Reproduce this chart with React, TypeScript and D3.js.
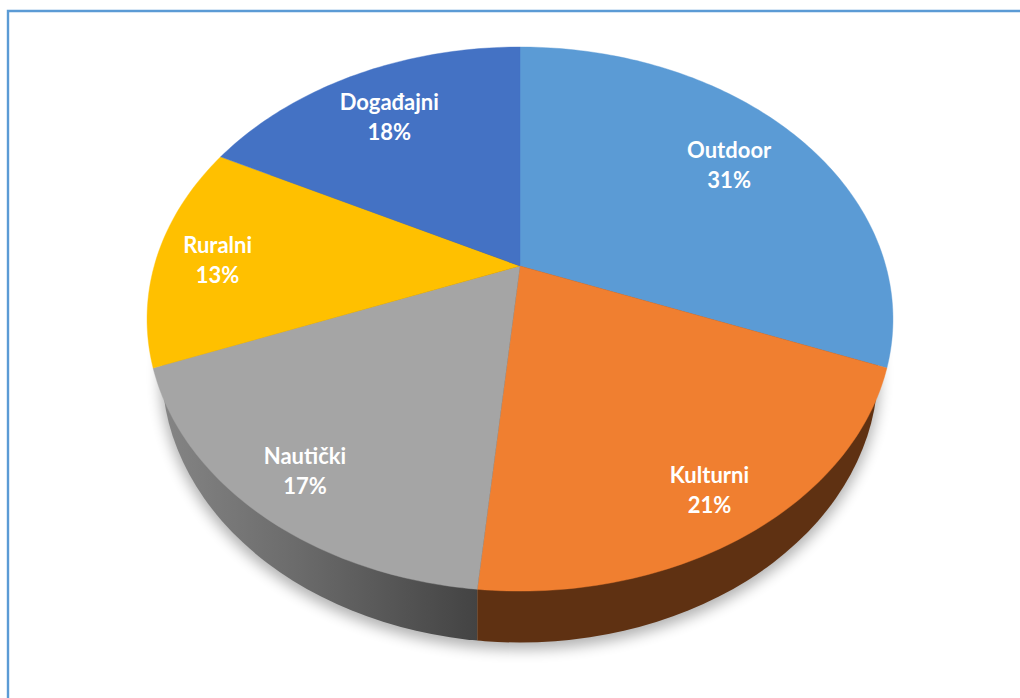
import React from "react";
import * as d3 from "d3";

const categories = ["Outdoor", "Kulturni", "Nautički", "Ruralni", "Događajni"];
const shares = [30.9, 20.6, 17.6, 13.4, 17.5];
const percentLabels = ["31%", "21%", "17%", "13%", "18%"];
const colors = ["#5B9BD5", "#F07F30", "#A5A5A5", "#FFC000", "#4472C4"];
const labelRadius = [0.75, 0.855, 0.85, 0.84, 0.765];
const labelNudgeX = [0, -2, 1, 2, -1];
const labelNudgeY = [0.5, 2, 0, 4, 2];

const W = 1020;
const H = 698;
const CX = 520;
// projective view of the pie's top face
const A = 365.8;
const B = 209.84;
const C = -0.195;
const D = 266;

function project(theta: number, r = 1): [number, number] {
  const u = Math.sin(theta) * r;
  const v = -Math.cos(theta) * r;
  const w = 1 + C * v;
  return [CX + (A * u) / w, (B * v + D) / w];
}

const arcs = d3.pie<number>().sort(null)(shares);
const line = d3.line();

function wedgePath(a0: number, a1: number) {
  const n = Math.max(2, Math.ceil((a1 - a0) * 60));
  const pts = d3.range(n + 1).map((i) => project(a0 + ((a1 - a0) * i) / n));
  return line([project(0, 0), ...pts]) + "Z";
}

// lower rim of the pie
const rim = { cy: 370, rx: 358, ry: 272.5 };
const splitX = project(arcs[1].endAngle)[0];

export default function App() {
  return (
    <svg
      width={W}
      height={H}
      viewBox={`0 0 ${W} ${H}`}
      style={{ position: "absolute", left: 0, top: 0, background: "#fff" }}
    >
      <defs>
        <linearGradient id="sideGray" gradientUnits="userSpaceOnUse" x1={160} x2={splitX} y1={0} y2={0}>
          <stop offset="0" stopColor="#858585" />
          <stop offset="0.45" stopColor="#6a6a6a" />
          <stop offset="1" stopColor="#434343" />
        </linearGradient>
        <clipPath id="sideLeft">
          <rect x={0} y={0} width={splitX} height={H} />
        </clipPath>
        <clipPath id="sideRight">
          <rect x={splitX} y={0} width={W - splitX} height={H} />
        </clipPath>
        <filter id="soft" x="-10%" y="-10%" width="120%" height="120%">
          <feGaussianBlur stdDeviation={7} />
        </filter>
      </defs>

      <path d="M8 698V11H1020" fill="none" stroke="#5B9BD5" strokeWidth={2.4} />

      <ellipse
        cx={CX}
        cy={rim.cy + 5}
        rx={rim.rx + 2}
        ry={rim.ry + 2}
        fill="#000"
        opacity={0.3}
        filter="url(#soft)"
      />
      <ellipse cx={CX} cy={rim.cy} rx={rim.rx} ry={rim.ry} fill="url(#sideGray)" clipPath="url(#sideLeft)" />
      <ellipse cx={CX} cy={rim.cy} rx={rim.rx} ry={rim.ry} fill="#5F3112" clipPath="url(#sideRight)" />

      {arcs.map((a, i) => (
        <path key={categories[i]} d={wedgePath(a.startAngle, a.endAngle)} fill={colors[i]} stroke={colors[i]} strokeWidth={0.4} />
      ))}

      {arcs.map((a, i) => {
        const [px, py] = project((a.startAngle + a.endAngle) / 2, labelRadius[i]);
        const x = px + labelNudgeX[i];
        const y = py + labelNudgeY[i];
        return (
          <text
            key={categories[i]}
            x={x}
            y={y}
            textAnchor="middle"
            fill="#fff"
            fontFamily="Lato, 'Open Sans', sans-serif"
            fontWeight={700}
            fontSize={22}
          >
            <tspan x={x} dy={-6.5}>{categories[i]}</tspan>
            <tspan x={x} dy={30}>{percentLabels[i]}</tspan>
          </text>
        );
      })}
    </svg>
  );
}
